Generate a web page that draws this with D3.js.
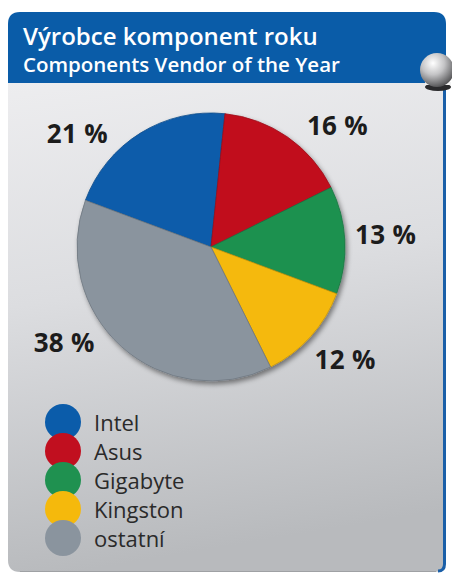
<!DOCTYPE html>
<html>
<head>
<meta charset="utf-8">
<script src="https://cdnjs.cloudflare.com/ajax/libs/d3/7.8.5/d3.min.js"></script>
<style>
  html, body { margin: 0; padding: 0; background: #ffffff; }
  svg { display: block; }
</style>
</head>
<body>
<svg id="chart" width="452" height="575"></svg>
<script>
// ---- data ----
const categories = ["Intel", "Asus", "Gigabyte", "Kingston", "ostatní"];
const shares = [21, 16, 13, 12, 38];
const valueLabels = ["21 %", "16 %", "13 %", "12 %", "38 %"];
const colors = ["#0b5caa", "#c10f1f", "#1f9150", "#f5b90c", "#8a949e"];
const titleLines = ["Výrobce komponent roku", "Components Vendor of the Year"];

// ---- layout (not data) ----
const cx = 211, cy = 247, R = 134;
const startDeg = -69.6;
const labelR = 175;
const labelNudgeDeg = [-18, 11.5, -1, -2, 15];

const svg = d3.select("#chart");
const defs = svg.append("defs");

// panel gradient
const pg = defs.append("linearGradient").attr("id", "panelGrad")
  .attr("x1", "0").attr("y1", "0").attr("x2", "0.15").attr("y2", "1");
pg.append("stop").attr("offset", "0").attr("stop-color", "#ededef");
pg.append("stop").attr("offset", "0.45").attr("stop-color", "#dcdde0");
pg.append("stop").attr("offset", "1").attr("stop-color", "#b8babd");

// ball gradient
const bg = defs.append("radialGradient").attr("id", "ballGrad")
  .attr("cx", "0.38").attr("cy", "0.3").attr("r", "0.75");
bg.append("stop").attr("offset", "0").attr("stop-color", "#ffffff");
bg.append("stop").attr("offset", "0.45").attr("stop-color", "#c4c4c6");
bg.append("stop").attr("offset", "1").attr("stop-color", "#4a4a4c");

// pie shadow
const f = defs.append("filter").attr("id", "pieShadow")
  .attr("x", "-20%").attr("y", "-20%").attr("width", "140%").attr("height", "140%");
f.append("feDropShadow").attr("dx", 2).attr("dy", 3).attr("stdDeviation", 2.5)
  .attr("flood-color", "#000").attr("flood-opacity", 0.45);

// panel (body)
const pL = 8, pR = 446, pT = 12, headBottom = 83, pB = 572, rr = 12;
svg.append("path")
  .attr("d", `M${pL},${headBottom} L${pR},${headBottom} L${pR},${pB - rr}
              Q${pR},${pB} ${pR - rr},${pB} L${pL + rr},${pB}
              Q${pL},${pB} ${pL},${pB - rr} Z`)
  .attr("fill", "url(#panelGrad)");

// right blue edge line
svg.append("path")
  .attr("d", `M${pR - 1.5},${headBottom} L${pR - 1.5},${pB - 8} Q${pR - 1.5},${pB - 1} ${pR - 8},${pB - 1}`)
  .attr("fill", "none").attr("stroke", "#1a5fa8").attr("stroke-width", 3);
// bottom subtle edge
svg.append("path")
  .attr("d", `M${pL + rr},${pB - 0.5} L${pR - 10},${pB - 0.5}`)
  .attr("stroke", "#9fa1a4").attr("stroke-width", 1);

// header
svg.append("path")
  .attr("d", `M${pL},${headBottom} L${pL},${pT + rr} Q${pL},${pT} ${pL + rr},${pT}
              L${pR - rr},${pT} Q${pR},${pT} ${pR},${pT + rr} L${pR},${headBottom} Z`)
  .attr("fill", "#0a5ca8");

svg.append("text").text(titleLines[0])
  .attr("x", 23).attr("y", 45)
  .attr("font-family", "'Open Sans', sans-serif").attr("font-weight", 600)
  .attr("font-size", 24).attr("fill", "#ffffff");
svg.append("text").text(titleLines[1])
  .attr("x", 23).attr("y", 72)
  .attr("font-family", "'Open Sans', sans-serif").attr("font-weight", 600)
  .attr("font-size", 20.5).attr("fill", "#ffffff");

// ball ornament
svg.append("ellipse").attr("cx", 438).attr("cy", 87).attr("rx", 13).attr("ry", 4)
  .attr("fill", "#2a2a2c");
svg.append("rect").attr("x", 425).attr("y", 82).attr("width", 26).attr("height", 3)
  .attr("fill", "#f2f2f2");
svg.append("circle").attr("cx", 437).attr("cy", 70).attr("r", 17)
  .attr("fill", "url(#ballGrad)");

// pie
const pie = d3.pie().sort(null).value(d => d)
  .startAngle(startDeg * Math.PI / 180)
  .endAngle(startDeg * Math.PI / 180 + 2 * Math.PI);
const arcs = pie(shares);
const arc = d3.arc().innerRadius(0).outerRadius(R);

const g = svg.append("g").attr("transform", `translate(${cx},${cy})`);
const pieG = g.append("g").attr("filter", "url(#pieShadow)");
pieG.selectAll("path").data(arcs).join("path")
  .attr("d", arc)
  .attr("fill", (d, i) => colors[i])
  .attr("stroke", (d, i) => d3.color(colors[i]).darker(0.6))
  .attr("stroke-width", 0.8);

// value labels
const labelAngle = (d, i) => (d.startAngle + d.endAngle) / 2 + labelNudgeDeg[i] * Math.PI / 180;
g.selectAll("text.val").data(arcs).join("text")
  .attr("class", "val")
  .attr("x", (d, i) => labelR * Math.sin(labelAngle(d, i)))
  .attr("y", (d, i) => -labelR * Math.cos(labelAngle(d, i)))
  .attr("dy", "0.36em")
  .attr("text-anchor", "middle")
  .attr("font-family", "'Open Sans', sans-serif").attr("font-weight", 700)
  .attr("font-size", 26).attr("letter-spacing", 0.3).attr("fill", "#1c1c1c")
  .text((d, i) => valueLabels[i]);

// legend
const legY = d3.scalePoint().domain(categories).range([422, 538]);
const leg = svg.append("g");
leg.selectAll("circle").data(categories).join("circle")
  .attr("cx", 63).attr("cy", d => legY(d)).attr("r", 18)
  .attr("fill", (d, i) => colors[i]);
leg.selectAll("text").data(categories).join("text")
  .attr("x", 94).attr("y", d => legY(d) + 8.5)
  .attr("font-family", "'Open Sans', sans-serif")
  .attr("font-size", 22).attr("fill", "#2a2a2a")
  .text(d => d);
</script>
</body>
</html>
